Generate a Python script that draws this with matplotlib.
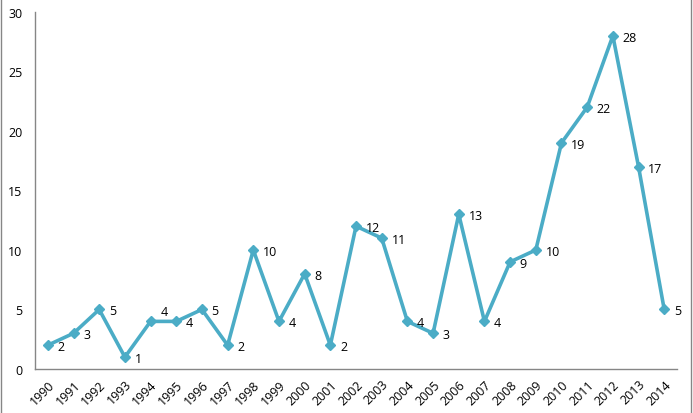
import matplotlib.pyplot as plt
from matplotlib.patches import Rectangle

plt.rcParams["font.family"] = ["Open Sans", "DejaVu Sans"]
plt.rcParams["font.size"] = 9

years = [str(y) for y in range(1990, 2015)]
counts = [2, 3, 5, 1, 4, 4, 5, 2, 10, 4, 8, 2, 12, 11, 4, 3, 13, 4, 9, 10, 19, 22, 28, 17, 5]
# label offsets in points (dy); most sit right of the marker
label_dy = {4: 7}

color = "#4BACC6"

fig = plt.figure(figsize=(6.93, 4.14), dpi=100)
ax = fig.add_axes([0.0505, 0.1063, 0.9265, 0.8623])

x = list(range(len(years)))
ax.plot(x, counts, color=color, linewidth=2.6, marker="D", markersize=5.5,
        markerfacecolor=color, markeredgecolor=color)

for i, v in enumerate(counts):
    ax.annotate(str(v), (i, v), xytext=(7, label_dy.get(i, -1)), textcoords="offset points",
                ha="left", va="center", fontsize=9, color="#000000")

ax.set_xlim(-0.5, len(years) - 0.5)
ax.set_ylim(0, 30)
ax.set_yticks(range(0, 31, 5))
ax.set_xticks(x)
ax.set_xticklabels(years, rotation=45, ha="right", rotation_mode="anchor")
ax.tick_params(axis="both", length=0, pad=6, colors="#000000")
ax.tick_params(axis="y", pad=9)

for side in ["top", "right"]:
    ax.spines[side].set_visible(False)
for side in ["left", "bottom"]:
    ax.spines[side].set_color("#868686")
    ax.spines[side].set_linewidth(1)

# chart area border
fig.patches.append(Rectangle((0.0015, -0.01), 0.995, 1.02, transform=fig.transFigure,
                             fill=False, edgecolor="#868686", linewidth=1))

fig.savefig("out.png", dpi=100)
